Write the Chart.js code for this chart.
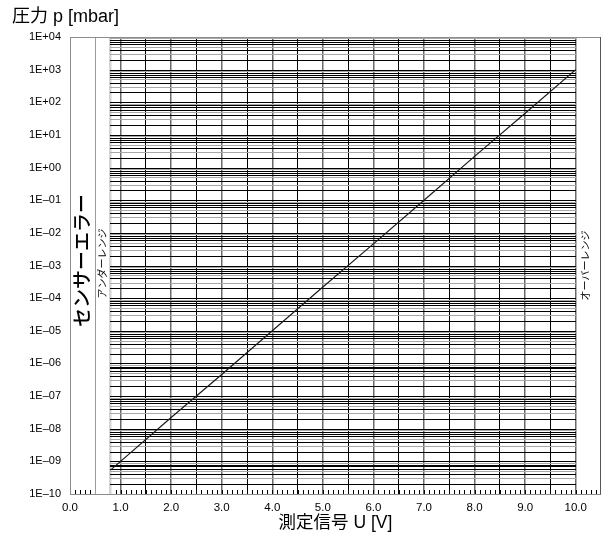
<!DOCTYPE html>
<html>
<head>
<meta charset="utf-8">
<script src="https://cdn.jsdelivr.net/npm/chart.js@4/dist/chart.umd.min.js"></script>
<style>
html,body{margin:0;padding:0;background:#fff;}
#wrap{width:608px;height:534px;position:relative;}
</style>
</head>
<body>
<div id="wrap"><canvas id="c" width="608" height="534"></canvas></div>
<script>
// ---- data ----
const signalVolts   = [0.8, 1.0, 2.0, 3.0, 4.0, 5.0, 6.0, 7.0, 8.0, 9.0, 10.0];
const pressureMbar  = [5.4e-10, 1e-9, 2.2e-8, 4.6e-7, 1e-5, 2.2e-4, 4.6e-3, 1e-1, 2.2, 46, 1000];
const xTickLabels   = ['0.0','1.0','2.0','3.0','4.0','5.0','6.0','7.0','8.0','9.0','10.0'];
const yTickValues   = [1e-10,1e-9,1e-8,1e-7,1e-6,1e-5,1e-4,1e-3,1e-2,1e-1,1e0,1e1,1e2,1e3,1e4];
const yTickLabels   = ['1E\u201310','1E\u201309','1E\u201308','1E\u201307','1E\u201306','1E\u201305','1E\u201304','1E\u201303','1E\u201302','1E\u201301','1E+00','1E+01','1E+02','1E+03','1E+04'];
const regionNames   = ['センサーエラー','アンダーレンジ','オーバーレンジ'];
const regionEdges   = [0, 0.5, 0.8, 10.0, 10.5];   // volts
const yTitle = '圧力 p [mbar]';
const xTitle = '測定信号 U [V]';

const LATIN = '"Liberation Sans", Arial, "Noto Sans CJK JP", sans-serif';
const EPS = 1e-6;
const GRAY_MANTISSAS = [3, 5, 9];

function isMult(v, step){ const r = v/step; return Math.abs(r - Math.round(r)) < EPS; }

const gridPainter = {
  id: 'gridPainter',
  beforeDatasetsDraw(chart){
    const {ctx, chartArea:a, scales:{x, y}} = chart;
    const xl = Math.round(x.getPixelForValue(regionEdges[2]));
    const xr = Math.round(x.getPixelForValue(regionEdges[3]));
    ctx.save();
    // horizontal log grid, only inside the measuring range
    const dMin = Math.round(Math.log10(yTickValues[0]));
    const dMax = Math.round(Math.log10(yTickValues[yTickValues.length-1]));
    const lines = [];
    for (let d = dMin; d <= dMax; d++){
      for (let m = 1; m <= 9; m++){
        if (d === dMax && m > 1) break;
        lines.push({v: m * Math.pow(10, d), gray: GRAY_MANTISSAS.includes(m)});
      }
    }
    // gray first, black on top
    lines.sort((p, q) => (q.gray ? 1 : 0) - (p.gray ? 1 : 0));
    for (const ln of lines){
      const yy = Math.round(y.getPixelForValue(ln.v)) + 0.5;
      ctx.strokeStyle = ln.gray ? '#a8a8a8' : '#000';
      ctx.lineWidth = 1;
      ctx.beginPath();
      ctx.moveTo(xl, yy); ctx.lineTo(xr, yy); ctx.stroke();
    }
    // small inside ticks along the bottom every 0.1 V
    ctx.strokeStyle = '#000'; ctx.lineWidth = 1;
    for (let i = 1; i < 105; i++){
      const v = i/10;
      if (v > 0.5 - EPS && v < 0.8 + EPS) continue;
      const px = Math.round(x.getPixelForValue(v)) + 0.5;
      ctx.beginPath();
      ctx.moveTo(px, a.bottom); ctx.lineTo(px, a.bottom - 4); ctx.stroke();
    }
    // frame
    ctx.strokeStyle = '#8c8c8c'; ctx.lineWidth = 1;
    ctx.strokeRect(Math.round(a.left)+0.5, Math.round(a.top)+0.5, Math.round(a.right-a.left)-1, Math.round(a.bottom-a.top));
    ctx.strokeStyle = '#555';
    ctx.beginPath();
    ctx.moveTo(Math.round(a.right)-0.5, a.top); ctx.lineTo(Math.round(a.right)-0.5, a.bottom+0.5); ctx.stroke();
    ctx.restore();
  },
  afterDatasetsDraw(chart){
    const {ctx, chartArea:a, scales:{x}} = chart;
    const cy = (a.top + a.bottom)/2;
    const specs = [
      {text: regionNames[0], x0: regionEdges[0], x1: regionEdges[1], size: 19, dy: -5, dx: -1, weight: '500'},
      {text: regionNames[1], x0: regionEdges[1], x1: regionEdges[2], size: 10, dy: -2, dx: -1, weight: 'normal'},
      {text: regionNames[2], x0: regionEdges[3], x1: regionEdges[4], size: 10, dy: 0, dx: -3, weight: 'normal'},
    ];
    ctx.save();
    ctx.fillStyle = '#000';
    ctx.textAlign = 'center';
    ctx.textBaseline = 'middle';
    for (const s of specs){
      const px = (x.getPixelForValue(s.x0) + x.getPixelForValue(s.x1))/2 + s.dx;
      ctx.save();
      ctx.translate(px, cy + s.dy);
      ctx.rotate(-Math.PI/2);
      ctx.font = s.weight + ' ' + s.size + 'px "Noto Sans CJK JP", sans-serif';
      ctx.fillText(s.text, 0, 0);
      ctx.restore();
    }
    ctx.restore();
  }
};

const xTicks = [];
for (let i = 0; i <= 105; i++) xTicks.push(i/10);

new Chart(document.getElementById('c'), {
  type: 'line',
  data: {
    datasets: [{
      data: signalVolts.map((v, i) => ({x: v, y: pressureMbar[i]})),
      borderColor: '#1a1a1a',
      borderWidth: 1.2,
      pointRadius: 0,
      tension: 0,
      fill: false
    }]
  },
  options: {
    responsive: false,
    devicePixelRatio: 1,
    animation: false,
    layout: { padding: { left: 12, right: 2, top: 0, bottom: 0 } },
    plugins: {
      legend: { display: false },
      tooltip: { enabled: false },
      title: {
        display: true,
        text: yTitle,
        align: 'start',
        color: '#000',
        font: { family: LATIN, size: 18, weight: 'normal', lineHeight: 1.2 },
        padding: { top: 6, bottom: 9.4 }
      }
    },
    scales: {
      x: {
        type: 'linear',
        min: 0,
        max: 10.5,
        afterBuildTicks(scale){ scale.ticks = xTicks.map(v => ({value: v})); },
        afterFit(scale){ scale.height = 40; },
        border: { display: false },
        grid: {
          drawTicks: false,
          color(ctx){
            const v = ctx.tick ? ctx.tick.value : -1;
            if (Math.abs(v - regionEdges[1]) < EPS) return '#9a9a9a';
            if (Math.abs(v - regionEdges[2]) < EPS) return '#d4d4d4';
            if (v > 1 - EPS && v < 10 + EPS && isMult(v, 0.5)) return isMult(v, 1) ? '#6a6a6a' : '#000';
            return 'rgba(0,0,0,0)';
          },
          lineWidth(ctx){
            const v = ctx.tick ? ctx.tick.value : -1;
            if (Math.abs(v - regionEdges[2]) < EPS) return 2.5;
            if (v > 1 - EPS && v < 10 + EPS && isMult(v, 1)) return 1.5;
            return 1;
          }
        },
        ticks: {
          autoSkip: false,
          maxRotation: 0,
          padding: 7,
          color: '#000',
          font: { family: LATIN, size: 11.5 },
          callback(v){
            if (isMult(v, 1) && v <= 10 + EPS) return xTickLabels[Math.round(v)];
            return '';
          }
        },
        title: {
          display: true,
          text: xTitle,
          color: '#000',
          font: { family: LATIN, size: 17.5 },
          padding: { top: 0, bottom: 0 }
        }
      },
      y: {
        type: 'logarithmic',
        min: yTickValues[0],
        max: yTickValues[yTickValues.length-1],
        afterBuildTicks(scale){ scale.ticks = yTickValues.map(v => ({value: v})); },
        afterFit(scale){ scale.width = 58; },
        border: { display: false },
        grid: { display: false, drawTicks: false },
        ticks: {
          autoSkip: false,
          padding: 9,
          color: '#000',
          font: { family: LATIN, size: 11 },
          callback(v, i){ return yTickLabels[i]; }
        }
      }
    }
  },
  plugins: [gridPainter]
});
</script>
</body>
</html>
